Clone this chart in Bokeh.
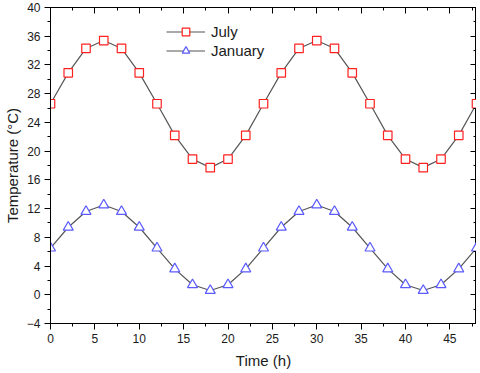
from bokeh.plotting import figure
from bokeh.models import LinearAxis, Range1d, SingleIntervalTicker, Legend, LegendItem
from bokeh.embed import file_html
from bokeh.resources import INLINE

# ---- data ----
hours = [0, 2, 4, 6, 8, 10, 12, 14, 16, 18, 20, 22, 24,
         26, 28, 30, 32, 34, 36, 38, 40, 42, 44, 46, 48]
july = [26.6, 30.9, 34.3, 35.4, 34.3, 30.9, 26.6, 22.2, 18.9, 17.7, 18.9, 22.2, 26.6,
        30.9, 34.3, 35.4, 34.3, 30.9, 26.6, 22.2, 18.9, 17.7, 18.9, 22.2, 26.6]
january = [6.5, 9.4, 11.6, 12.5, 11.6, 9.4, 6.5, 3.6, 1.4, 0.6, 1.4, 3.6, 6.5,
           9.4, 11.6, 12.5, 11.6, 9.4, 6.5, 3.6, 1.4, 0.6, 1.4, 3.6, 6.5]
x_ticks = [0, 5, 10, 15, 20, 25, 30, 35, 40, 45]
y_ticks = [-4, 0, 4, 8, 12, 16, 20, 24, 28, 32, 36, 40]
series_names = ["July", "January"]
x_label = "Time (h)"
y_label = "Temperature (°C)"

FONT = "Liberation Sans"
TXT = "#1a1a1a"

p = figure(width=476, height=373, output_backend="svg", toolbar_location=None,
           x_range=Range1d(0, 48), y_range=Range1d(-4, 40),
           min_border_left=0, min_border_right=0, min_border_top=7, min_border_bottom=50)
p.background_fill_color = "white"
p.border_fill_color = "white"
p.outline_line_color = "black"
p.grid.visible = False

xt = SingleIntervalTicker(interval=5, num_minor_ticks=2)
yt = SingleIntervalTicker(interval=4, num_minor_ticks=2)

for ax, title in ((p.xaxis[0], x_label), (p.yaxis[0], y_label)):
    ax.axis_label = title
    ax.axis_label_text_font = FONT
    ax.axis_label_text_font_size = "15px"
    ax.axis_label_text_font_style = "normal"
    ax.axis_label_text_color = TXT
    ax.major_label_text_font = FONT
    ax.major_label_text_font_size = "12px"
    ax.major_label_text_color = TXT
    ax.major_tick_out = 6
    ax.major_tick_in = 0
    ax.minor_tick_out = 3
    ax.minor_tick_in = 0
    ax.axis_line_color = "black"
    ax.major_tick_line_color = "black"
    ax.minor_tick_line_color = "black"
p.xaxis[0].ticker = xt
p.yaxis[0].ticker = yt
p.xaxis[0].major_label_standoff = 4
p.xaxis[0].axis_label_standoff = 6
p.yaxis[0].major_label_standoff = 4
p.yaxis[0].axis_label_standoff = 3

for loc, tk, vals in (("above", xt, x_ticks), ("right", yt, y_ticks)):
    ax = LinearAxis(ticker=tk, major_label_text_font_size="0px", major_label_standoff=0,
                    major_label_text_color=None,
                    major_label_overrides={v: "" for v in vals},
                    major_tick_in=6, major_tick_out=0, minor_tick_in=3, minor_tick_out=0,
                    axis_line_color="black", major_tick_line_color="black",
                    minor_tick_line_color="black")
    p.add_layout(ax, loc)

line_color = "#555555"
jl = p.line(hours, july, line_color=line_color, line_width=1.2)
js = p.scatter(hours, july, marker="square", size=8.5, line_color="#ff2020",
               fill_color="white", line_width=1.2)
nl = p.line(hours, january, line_color=line_color, line_width=1.2)
ns = p.scatter(hours, january, marker="triangle", size=10, line_color="#5a5aff",
               fill_color="white", line_width=1.2)

legend = Legend(items=[LegendItem(label=series_names[0], renderers=[jl, js]),
                       LegendItem(label=series_names[1], renderers=[nl, ns])],
                location=(116, 263), border_line_alpha=0, background_fill_alpha=0,
                label_text_font=FONT, label_text_font_size="15px", label_text_color=TXT,
                glyph_width=39, glyph_height=19, label_height=19, spacing=0,
                padding=0, margin=0, label_standoff=6)
p.add_layout(legend)

open("out.html", "w").write(file_html(p, INLINE))
